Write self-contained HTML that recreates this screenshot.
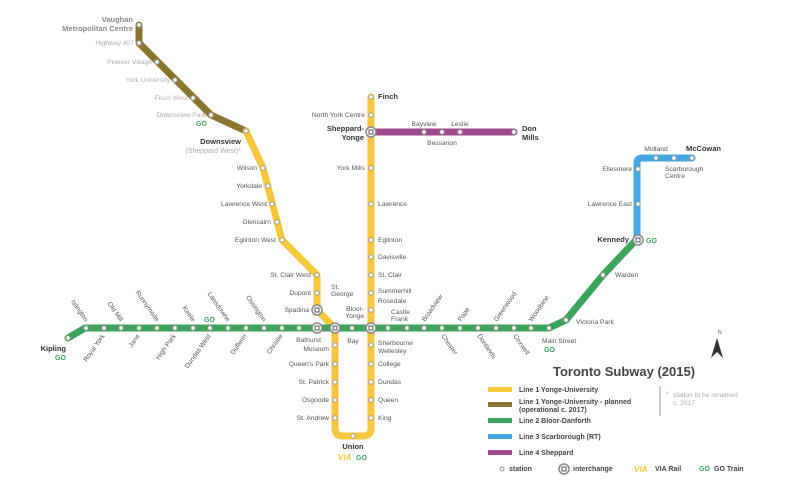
<!DOCTYPE html>
<html><head><meta charset="utf-8"><style>
html,body{margin:0;padding:0;background:#fff;}
svg{display:block;}
text{font-family:"Liberation Sans",sans-serif;font-size:6.7px;fill:#555;}
.b{font-weight:bold;fill:#333;font-size:7.5px;}
.g{fill:#aaa;}
.go{font-weight:bold;fill:#3DA35D;font-size:7px;}
.lg{font-weight:bold;fill:#444;font-size:7px;}
</style></head><body>
<svg width="800" height="502" viewBox="0 0 800 502" xmlns="http://www.w3.org/2000/svg">
<g fill="none" stroke-linejoin="round" stroke-linecap="round" stroke-width="7">
<polyline stroke="#8B7530" points="139,25 139,43 211,115 246,131"/>
<path stroke="#F8C63D" d="M246,131 L263,168 L282,240 L317,275 L317,310 L335,328 L335,428 Q335,436 343,436 L363,436 Q371,436 371,428 L371,97"/>
<polyline stroke="#3DA35D" points="68,338 85,328 549,328 566,320 603,275 637,239"/>
<line stroke="#9E4A8E" x1="371" y1="132" x2="514" y2="132"/>
<path stroke="#45A7E0" d="M637,239 L637,163 Q637,158 642,158 L692,158"/>
</g>
<g fill="#fff" stroke="#999" stroke-width="1">
<circle cx="139" cy="25" r="2.2"/><circle cx="139" cy="43" r="2.2"/><circle cx="157" cy="62" r="2.2"/><circle cx="175" cy="80" r="2.2"/><circle cx="193" cy="98" r="2.2"/><circle cx="211" cy="115" r="2.2"/><circle cx="246" cy="131" r="2.2"/>
<circle cx="263" cy="168" r="2.2"/><circle cx="268" cy="186" r="2.2"/><circle cx="272" cy="204" r="2.2"/><circle cx="277" cy="222" r="2.2"/><circle cx="282" cy="240" r="2.2"/><circle cx="317" cy="275" r="2.2"/><circle cx="317" cy="293" r="2.2"/>
<circle cx="335" cy="345" r="2.2"/><circle cx="335" cy="364" r="2.2"/><circle cx="335" cy="382" r="2.2"/><circle cx="335" cy="400" r="2.2"/><circle cx="335" cy="418" r="2.2"/><circle cx="353" cy="436" r="2.2"/>
<circle cx="371" cy="345" r="2.2"/><circle cx="371" cy="364" r="2.2"/><circle cx="371" cy="382" r="2.2"/><circle cx="371" cy="400" r="2.2"/><circle cx="371" cy="418" r="2.2"/>
<circle cx="371" cy="97" r="2.2"/><circle cx="371" cy="115" r="2.2"/><circle cx="371" cy="168" r="2.2"/><circle cx="371" cy="204" r="2.2"/><circle cx="371" cy="240" r="2.2"/><circle cx="371" cy="257" r="2.2"/><circle cx="371" cy="275" r="2.2"/><circle cx="371" cy="293" r="2.2"/><circle cx="371" cy="310" r="2.2"/>
<circle cx="424" cy="132" r="2.2"/><circle cx="442" cy="132" r="2.2"/><circle cx="460" cy="132" r="2.2"/><circle cx="514" cy="132" r="2.2"/>
<circle cx="638" cy="169" r="2.2"/><circle cx="638" cy="204" r="2.2"/><circle cx="656" cy="158" r="2.2"/><circle cx="674" cy="158" r="2.2"/><circle cx="692" cy="158" r="2.2"/>
<circle cx="68" cy="338" r="2.2"/><circle cx="86" cy="328" r="2.2"/><circle cx="104" cy="328" r="2.2"/><circle cx="121" cy="328" r="2.2"/><circle cx="139" cy="328" r="2.2"/><circle cx="157" cy="328" r="2.2"/><circle cx="175" cy="328" r="2.2"/><circle cx="193" cy="328" r="2.2"/><circle cx="210" cy="328" r="2.2"/><circle cx="228" cy="328" r="2.2"/><circle cx="246" cy="328" r="2.2"/><circle cx="264" cy="328" r="2.2"/><circle cx="282" cy="328" r="2.2"/><circle cx="299" cy="328" r="2.2"/><circle cx="352" cy="328" r="2.2"/><circle cx="388" cy="328" r="2.2"/><circle cx="407" cy="328" r="2.2"/><circle cx="424" cy="328" r="2.2"/><circle cx="442" cy="328" r="2.2"/><circle cx="460" cy="328" r="2.2"/><circle cx="478" cy="328" r="2.2"/><circle cx="496" cy="328" r="2.2"/><circle cx="514" cy="328" r="2.2"/><circle cx="531" cy="328" r="2.2"/><circle cx="549" cy="328" r="2.2"/><circle cx="566" cy="320" r="2.2"/><circle cx="603" cy="275" r="2.2"/>
</g>
<g fill="#fff" stroke="#888" stroke-width="1.5">
<circle cx="317" cy="310" r="5"/><circle cx="317" cy="328" r="5"/><circle cx="335" cy="328" r="5"/><circle cx="371" cy="328" r="5"/><circle cx="371" cy="132" r="5"/><circle cx="638" cy="240" r="5"/>
</g>
<g fill="#fff" stroke="#555" stroke-width="1">
<rect x="315" y="308" width="4" height="4"/><rect x="315" y="326" width="4" height="4"/><rect x="333" y="326" width="4" height="4"/><rect x="369" y="326" width="4" height="4"/><rect x="369" y="130" width="4" height="4"/><rect x="636" y="238" width="4" height="4"/>
</g>
<text class="b g" x="133" y="22" text-anchor="end" style="fill:#888">Vaughan</text>
<text class="b g" x="133" y="31" text-anchor="end" style="fill:#888">Metropolitan Centre</text>
<text class="g" x="134" y="45" text-anchor="end">Highway 407</text>
<text class="g" x="152" y="64" text-anchor="end">Pioneer Village</text>
<text class="g" x="170" y="82" text-anchor="end">York University</text>
<text class="g" x="188" y="100" text-anchor="end">Finch West</text>
<text class="g" x="206" y="117" text-anchor="end">Downsview Park</text>
<text class="go" x="196" y="126">GO</text>
<text class="b" x="241" y="144" text-anchor="end">Downsview</text>
<text class="g" x="241" y="153" text-anchor="end" style="font-size:7px">(Sheppard West)*</text>
<text x="257" y="170" text-anchor="end">Wilson</text>
<text x="262" y="188" text-anchor="end">Yorkdale</text>
<text x="267" y="206" text-anchor="end">Lawrence West</text>
<text x="271" y="224" text-anchor="end">Glencairn</text>
<text x="276" y="242" text-anchor="end">Eglinton West</text>
<text x="311" y="277" text-anchor="end">St. Clair West</text>
<text x="311" y="295" text-anchor="end">Dupont</text>
<text x="309" y="312" text-anchor="end">Spadina</text>
<text x="331" y="289">St.</text><text x="331" y="296">George</text>
<text x="321" y="342" text-anchor="end">Bathurst</text>
<text x="329" y="351" text-anchor="end">Museum</text>
<text x="329" y="366" text-anchor="end">Queen's Park</text>
<text x="329" y="384" text-anchor="end">St. Patrick</text>
<text x="329" y="402" text-anchor="end">Osgoode</text>
<text x="329" y="420" text-anchor="end">St. Andrew</text>
<text class="b" x="353" y="449" text-anchor="middle">Union</text>
<text x="338" y="460" style="font-weight:bold;font-style:italic;fill:#F8C63D;font-size:8px">VIA</text>
<text class="go" x="356" y="460">GO</text>
<text class="b" x="378" y="99">Finch</text>
<text x="365" y="117" text-anchor="end">North York Centre</text>
<text class="b" x="364" y="131" text-anchor="end">Sheppard-</text>
<text class="b" x="364" y="140" text-anchor="end">Yonge</text>
<text x="365" y="170" text-anchor="end">York Mills</text>
<text x="378" y="206">Lawrence</text>
<text x="378" y="242">Eglinton</text>
<text x="378" y="259">Davisville</text>
<text x="378" y="277">St. Clair</text>
<text x="378" y="293">Summerhill</text>
<text x="378" y="303">Rosedale</text>
<text x="364" y="311" text-anchor="end">Bloor-</text><text x="364" y="318" text-anchor="end">Yonge</text>
<text x="391" y="314">Castle</text><text x="391" y="321">Frank</text>
<text x="378" y="345">Sherbourne</text>
<text x="378" y="353">Wellesley</text>
<text x="378" y="366">College</text>
<text x="378" y="384">Dundas</text>
<text x="378" y="402">Queen</text>
<text x="378" y="420">King</text>
<text x="353" y="343" text-anchor="middle">Bay</text>
<text x="424" y="126" text-anchor="middle">Bayview</text>
<text x="460" y="126" text-anchor="middle">Leslie</text>
<text x="442" y="145" text-anchor="middle">Bessarion</text>
<text class="b" x="522" y="131">Don</text><text class="b" x="522" y="140">Mills</text>
<text x="656" y="151" text-anchor="middle">Midland</text>
<text class="b" x="686" y="151">McCowan</text>
<text x="665" y="171">Scarborough</text><text x="665" y="178">Centre</text>
<text x="632" y="171" text-anchor="end">Ellesmere</text>
<text x="632" y="206" text-anchor="end">Lawrence East</text>
<text class="b" x="629" y="242" text-anchor="end">Kennedy</text>
<text class="go" x="646" y="243">GO</text>
<text x="615" y="277">Warden</text>
<text x="576" y="324">Victoria Park</text>
<text x="542" y="343">Main Street</text>
<text class="go" x="544" y="352">GO</text>
<text class="b" x="66" y="351" text-anchor="end">Kipling</text>
<text class="go" x="55" y="360">GO</text>
<text class="go" x="204" y="322">GO</text>
<g text-anchor="end">
<text transform="translate(85,322) rotate(55)">Islington</text>
<text transform="translate(120,322) rotate(55)">Old Mill</text>
<text transform="translate(156,322) rotate(55)">Runnymede</text>
<text transform="translate(192,322) rotate(55)">Keele</text>
<text transform="translate(227,322) rotate(55)">Lansdowne</text>
<text transform="translate(263,322) rotate(55)">Ossington</text>
<text transform="translate(425,322) rotate(-55)" text-anchor="start">Broadview</text>
<text transform="translate(461,322) rotate(-55)" text-anchor="start">Pape</text>
<text transform="translate(497,322) rotate(-55)" text-anchor="start">Greenwood</text>
<text transform="translate(532,322) rotate(-55)" text-anchor="start">Woodbine</text>
<text transform="translate(105,336) rotate(-55)">Royal York</text>
<text transform="translate(140,336) rotate(-55)">Jane</text>
<text transform="translate(176,336) rotate(-55)">High Park</text>
<text transform="translate(211,336) rotate(-55)">Dundas West</text>
<text transform="translate(247,336) rotate(-55)">Dufferin</text>
<text transform="translate(283,336) rotate(-55)">Christie</text>
<text transform="translate(441,336) rotate(55)" text-anchor="start">Chester</text>
<text transform="translate(477,336) rotate(55)" text-anchor="start">Donlands</text>
<text transform="translate(513,336) rotate(55)" text-anchor="start">Coxwell</text>
</g>
<polygon points="717,338 711,358 717,352 723,358" fill="#333"/>
<text x="718" y="334" style="font-size:5px">N</text>
<text x="553" y="376" style="font-size:13px;font-weight:bold;fill:#444">Toronto Subway (2015)</text>
<rect x="488" y="387" width="24" height="5" fill="#F8C63D"/>
<text class="lg" x="519" y="392">Line 1 Yonge-University</text>
<rect x="488" y="402" width="24" height="5" fill="#8B7530"/>
<text class="lg" x="519" y="404">Line 1 Yonge-University - planned</text>
<text class="lg" x="519" y="412">(operational c. 2017)</text>
<rect x="488" y="418" width="24" height="5" fill="#3DA35D"/>
<text class="lg" x="519" y="423">Line 2 Bloor-Danforth</text>
<rect x="488" y="434" width="24" height="5" fill="#45A7E0"/>
<text class="lg" x="519" y="439">Line 3 Scarborough (RT)</text>
<rect x="488" y="450" width="24" height="5" fill="#9E4A8E"/>
<text class="lg" x="519" y="455">Line 4 Sheppard</text>
<line x1="660" y1="386" x2="660" y2="416" stroke="#999" stroke-width="1"/>
<text class="g" x="666" y="396">*</text>
<text class="g" x="673" y="397">station to be renamed</text>
<text class="g" x="673" y="405">c. 2017</text>
<circle cx="502" cy="469" r="2" fill="#fff" stroke="#999"/>
<text class="lg" x="509" y="471">station</text>
<circle cx="564" cy="469" r="5" fill="#fff" stroke="#888" stroke-width="1.5"/>
<rect x="562" y="467" width="4" height="4" fill="#fff" stroke="#555"/>
<text class="lg" x="573" y="471">interchange</text>
<text x="634" y="472" style="font-weight:bold;font-style:italic;fill:#F8C63D;font-size:8px">VIA</text>
<text class="lg" x="655" y="471">VIA Rail</text>
<text class="go" x="699" y="471">GO</text>
<text class="lg" x="714" y="471">GO Train</text>
</svg>
</body></html>
